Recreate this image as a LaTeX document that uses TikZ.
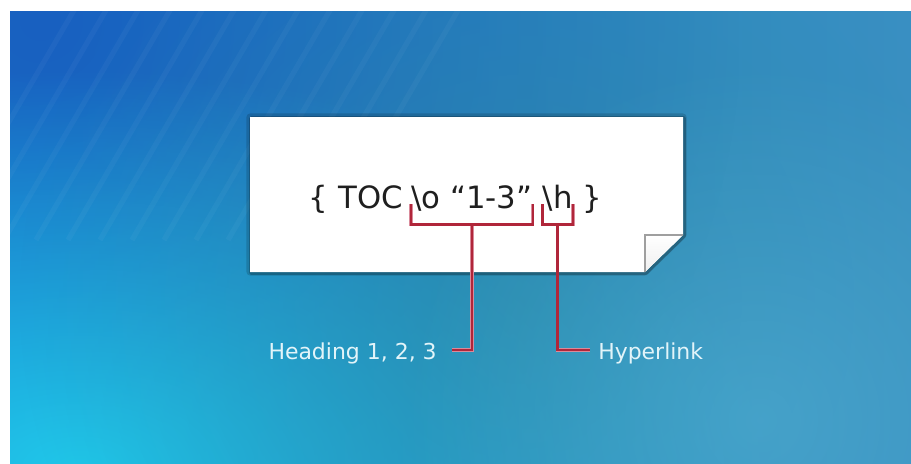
\documentclass[tikz,border=0pt]{standalone}
\usepackage{fontspec}
\setmainfont{DejaVu Sans}
\usetikzlibrary{positioning,fadings}
\definecolor{bgleft}{HTML}{1B80CC}
\definecolor{bgright}{HTML}{3A90C4}
\definecolor{bgdark}{HTML}{1860C0}
\definecolor{bgcyan}{HTML}{20C8EA}
\definecolor{bgteal}{HTML}{2E8A9E}
\definecolor{bglight}{HTML}{55B4D6}
\definecolor{brkred}{HTML}{B0263A}
\definecolor{brkhalo}{HTML}{D98A9A}
\definecolor{lblwhite}{HTML}{E2F4F9}
\tikzfading[name=softglow,inner color=transparent!0,outer color=transparent!100]

\begin{document}
\begin{tikzpicture}[x=0.02cm,y=-0.02cm,
  glow/.style={path fading=softglow},
  code/.style={inner sep=0pt,font=\fontsize{17.5}{21}\selectfont,text=black!88},
  lbl/.style={inner ysep=0pt,text height=1em,text depth=0pt,font=\fontsize{12.5}{15}\selectfont,text=lblwhite},
  brk/.style={draw=brkhalo,double=brkred,line width=0.3pt,double distance=1.4pt}]
\useasboundingbox (0,0) rectangle (911,463);
\fill[white] (0,0) rectangle (911,463);
% backdrop
\begin{scope}
\clip (10,11) rectangle (911,463);
\shade[left color=bgleft,right color=bgright] (10,11) rectangle (911,463);
\fill[bgdark,glow] (-660,-680) rectangle (740,720);
\fill[bgcyan,glow] (-620,70) rectangle (780,870);
\fill[bgteal,glow,opacity=0.6] (20,-200) rectangle (1020,800);
\fill[bglight,glow,opacity=0.55] (400,60) rectangle (1120,780);
\foreach \i in %
{0,...,12} {
   \draw[white,opacity=0.035,line width=3pt] (\i*32-60,240) -- ++(140,-240);
}
\end{scope}
% note
\draw[black,opacity=0.15,line width=4pt,line join=round] (250,117) -- (683,117) -- (683,235) -- (645,272) -- (250,272) -- cycle;
\draw[black,opacity=0.2,line width=2pt,line join=round] (251,118) -- (684,118) -- (684,236) -- (646,273) -- (251,273) -- cycle;
\fill[white] (250,117) -- (683,117) -- (683,235) -- (645,272) -- (250,272) -- cycle;
\shade[top color=white,bottom color=gray!12] (645,235) -- (683,235) -- (645,272) -- cycle;
\draw[gray!75,line width=0.8pt] (645,272) -- (645,235) -- (683,235);
% field code
\node[code,anchor=base west] (opt) at (411,208) {\textbackslash o “1-3”};
\node[code,base left=4.5pt of opt] (toc) {\{ TOC};
\node[code,base right=5.5pt of opt] (hl) {\textbackslash h};
\node[code,base right=5pt of hl] (cls) {\}};
\node[lbl,anchor=base east,inner xsep=8.5pt] (head) at (452,359) {Heading 1, 2, 3};
\node[lbl,anchor=base west,inner xsep=4.5pt] (hyp) at (590,359) {Hyperlink};
\draw[brk] (opt.base) ++(0,16.5) |- (head.east);
\draw[brk] (hl.base) ++(0,16.5) |- (hyp.west);
\draw[brk] ([yshift=2pt]opt.base west) -- ++(0,20) -| ([yshift=2pt]opt.base east);
\draw[brk] ([yshift=2pt]hl.base west) -- ++(0,20) -| ([yshift=2pt]hl.base east);
\end{tikzpicture}
\end{document}
